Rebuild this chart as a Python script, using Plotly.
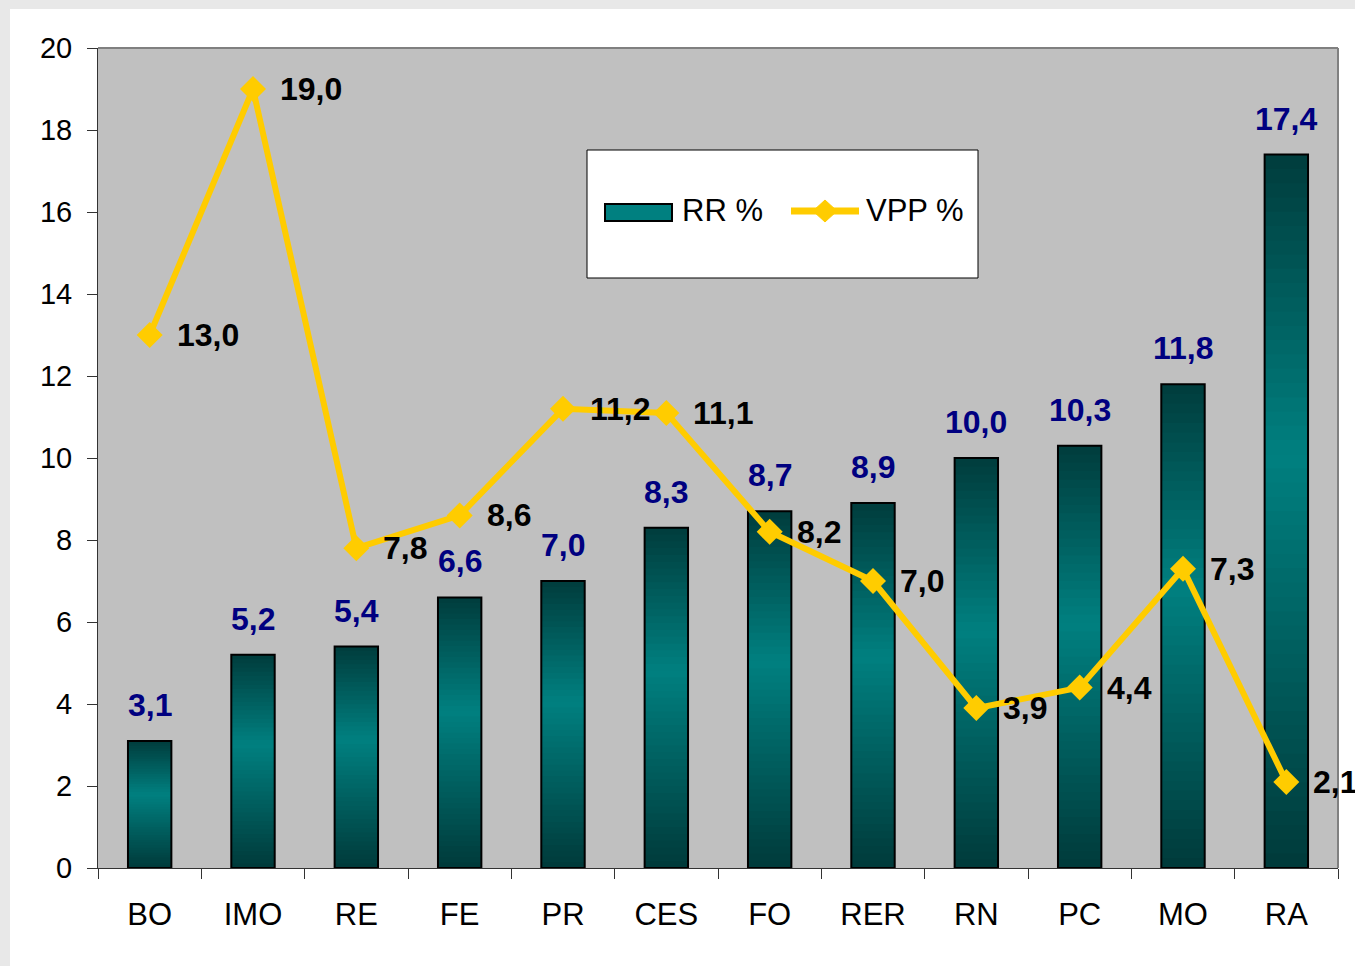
import plotly.graph_objects as go

CATEGORIES = ["BO", "IMO", "RE", "FE", "PR", "CES", "FO", "RER", "RN", "PC", "MO", "RA"]
RR = [3.1, 5.2, 5.4, 6.6, 7.0, 8.3, 8.7, 8.9, 10.0, 10.3, 11.8, 17.4]
VPP = [13.0, 19.0, 7.8, 8.6, 11.2, 11.1, 8.2, 7.0, 3.9, 4.4, 7.3, 2.1]
Y_TICKS = [0, 2, 4, 6, 8, 10, 12, 14, 16, 18, 20]
SERIES_NAMES = ["RR %", "VPP %"]

FONT = "Liberation Sans, Arial, sans-serif"
BAR_W = 0.42
N_SEG = 50
DARK_TOP = (0, 60, 60)
DARK_BOT = (0, 58, 58)
MID = (0, 128, 128)
PEAK = 0.58
TEAL = "#008080"
YELLOW = "#ffcc00"


def grad_color(t):
    if t <= PEAK:
        f = t / PEAK
        c = [DARK_BOT[i] + (MID[i] - DARK_BOT[i]) * f for i in range(3)]
    else:
        f = (t - PEAK) / (1 - PEAK)
        c = [MID[i] + (DARK_TOP[i] - MID[i]) * f for i in range(3)]
    return "rgb(%d,%d,%d)" % tuple(int(round(v)) for v in c)


def fmt(v):
    return ("%.1f" % v).replace(".", ",")


fig = go.Figure()

# gradient segments of the RR bars (overlapping slightly to avoid seams)
for k in range(N_SEG):
    t = (k + 0.5) / N_SEG
    lo = k / N_SEG
    hi = min((k + 2) / N_SEG, 1.0)
    fig.add_trace(go.Bar(
        x=CATEGORIES,
        y=[v * (hi - lo) for v in RR],
        base=[v * lo for v in RR],
        width=BAR_W,
        marker=dict(color=grad_color(t), line=dict(width=0)),
        showlegend=False,
        hoverinfo="skip",
    ))

# outline of the RR bars
fig.add_trace(go.Bar(
    x=CATEGORIES,
    y=RR,
    width=BAR_W,
    marker=dict(color="rgba(0,0,0,0)", line=dict(color="black", width=2)),
    showlegend=False,
    name=SERIES_NAMES[0],
))

# VPP line
fig.add_trace(go.Scatter(
    x=CATEGORIES,
    y=VPP,
    mode="lines+markers",
    name=SERIES_NAMES[1],
    line=dict(color=YELLOW, width=6),
    marker=dict(symbol="diamond", size=20, color=YELLOW),
    cliponaxis=False,
    showlegend=False,
))

annotations = []
for c, v in zip(CATEGORIES, RR):
    annotations.append(dict(
        x=c, y=v, xref="x", yref="y", text=fmt(v),
        showarrow=False, xanchor="center", yanchor="bottom", yshift=16,
        font=dict(family=FONT, size=32, color="#000080", weight="bold"),
    ))
for c, v in zip(CATEGORIES, VPP):
    annotations.append(dict(
        x=c, y=v, xref="x", yref="y", text=fmt(v),
        showarrow=False, xanchor="left", yanchor="middle", xshift=25,
        font=dict(family=FONT, size=32, color="black", weight="bold"),
    ))

# geometry helpers (paper coords relative to plot area)
L, R, T, B = 98, 17, 48, 98
W, H = 1355, 966
PW, PH = W - L - R, H - T - B


def px_x(x):
    return (x - L) / PW


def px_y(y):
    return (H - B - y) / PH


# legend texts
annotations.append(dict(
    x=px_x(680), y=px_y(211), xref="paper", yref="paper", text=SERIES_NAMES[0],
    showarrow=False, xanchor="left", yanchor="middle",
    font=dict(family=FONT, size=31, color="black"),
))
annotations.append(dict(
    x=px_x(864), y=px_y(211), xref="paper", yref="paper", text=SERIES_NAMES[1],
    showarrow=False, xanchor="left", yanchor="middle",
    font=dict(family=FONT, size=31, color="black"),
))

cx, cy = 825, 211
diamond = "M %f %f L %f %f L %f %f L %f %f Z" % (
    px_x(cx - 12), px_y(cy), px_x(cx), px_y(cy - 11),
    px_x(cx + 12), px_y(cy), px_x(cx), px_y(cy + 11),
)

shapes = [
    # outer gray frame bands
    dict(type="rect", xref="paper", yref="paper", x0=px_x(0), x1=px_x(10), y0=px_y(H), y1=px_y(0),
         fillcolor="#e8e8e8", line=dict(width=0), layer="below"),
    dict(type="rect", xref="paper", yref="paper", x0=px_x(0), x1=px_x(W), y0=px_y(9), y1=px_y(0),
         fillcolor="#e8e8e8", line=dict(width=0), layer="below"),
    # top and right border of plot area
    dict(type="line", xref="paper", yref="paper", x0=0, x1=1, y0=1, y1=1,
         line=dict(color="#808080", width=2)),
    dict(type="line", xref="paper", yref="paper", x0=1, x1=1, y0=0, y1=1,
         line=dict(color="#808080", width=2)),
    # legend box
    dict(type="rect", xref="paper", yref="paper", x0=px_x(587), x1=px_x(978), y0=px_y(278), y1=px_y(150),
         fillcolor="white", line=dict(color="black", width=1)),
    # legend symbol: bar
    dict(type="rect", xref="paper", yref="paper", x0=px_x(605), x1=px_x(672), y0=px_y(221), y1=px_y(204),
         fillcolor=TEAL, line=dict(color="black", width=2)),
    # legend symbol: line + diamond
    dict(type="line", xref="paper", yref="paper", x0=px_x(791), x1=px_x(859), y0=px_y(211), y1=px_y(211),
         line=dict(color=YELLOW, width=7)),
    dict(type="path", xref="paper", yref="paper", path=diamond,
         fillcolor=YELLOW, line=dict(color=YELLOW, width=1)),
]

fig.update_layout(
    width=W, height=H,
    margin=dict(l=L, r=R, t=T, b=B),
    paper_bgcolor="white",
    plot_bgcolor="#c0c0c0",
    barmode="overlay",
    separators=",.",
    font=dict(family=FONT, color="black"),
    showlegend=False,
    xaxis=dict(
        type="category", categoryorder="array", categoryarray=CATEGORIES,
        range=[-0.5, len(CATEGORIES) - 0.5],
        showline=True, linecolor="#333333", linewidth=1,
        ticks="outside", ticklen=10, tickcolor="#333333", tickson="boundaries",
        tickfont=dict(family=FONT, size=31, color="black"), ticklabelstandoff=19,
        showgrid=False, zeroline=False,
    ),
    yaxis=dict(
        range=[0, 20], tickvals=Y_TICKS, ticktext=[str(v) for v in Y_TICKS],
        showline=True, linecolor="#333333", linewidth=1,
        ticks="outside", ticklen=10, tickcolor="#333333",
        tickfont=dict(family=FONT, size=29, color="black"), ticklabelstandoff=9,
        showgrid=False, zeroline=False,
    ),
    annotations=annotations,
    shapes=shapes,
)

fig.write_html(
    "out.html",
    config={"displayModeBar": False},
    post_script="document.body.style.margin='0px';document.body.style.overflow='hidden';",
)
